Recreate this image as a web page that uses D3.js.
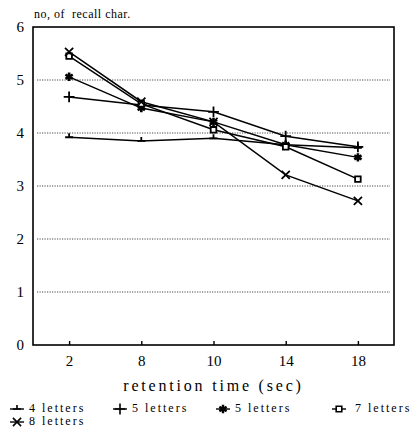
<!DOCTYPE html>
<html>
<head>
<meta charset="utf-8">
<script src="https://cdn.jsdelivr.net/npm/d3@7"></script>
<style>
  body { margin: 0; background: #fff; }
  svg { display: block; }
</style>
</head>
<body>
<svg id="chart"></svg>
<script>
const width = 416;
const height = 444;
const serif = '"Liberation Serif", "Times New Roman", Times, serif';

const times = ['2', '8', '10', '14', '18'];
const yTicks = [0, 1, 2, 3, 4, 5, 6];
const gridTicks = [1, 2, 3, 4, 5];

const letters4 = [3.92, 3.85, 3.90, 3.78, 3.72];
const letters5 = [4.68, 4.53, 4.40, 3.94, 3.74];
const letters5b = [5.06, 4.47, 4.21, 3.78, 3.54];
const letters7 = [5.45, 4.55, 4.06, 3.74, 3.13];
const letters8 = [5.53, 4.59, 4.21, 3.21, 2.72];

const seriesNames = ['4 letters', '5 letters', '5 letters', '7 letters', '8 letters'];

const series = [
    { name: seriesNames[0], values: letters4, mark: 'tick' },
    { name: seriesNames[1], values: letters5, mark: 'plus' },
    { name: seriesNames[2], values: letters5b, mark: 'star' },
    { name: seriesNames[3], values: letters7, mark: 'square' },
    { name: seriesNames[4], values: letters8, mark: 'times' }
];

const marks = {
    tick: 'M-4,0H4M0,0V-4',
    plus: d3.symbol(d3.symbolPlus, 40)(),
    star: d3.symbol(d3.symbolAsterisk, 50)(),
    square: d3.symbol(d3.symbolSquare2, 40)(),
    times: d3.symbol(d3.symbolTimes, 45)()
};

const plotLeft = 33, plotRight = 394, plotTop = 27, plotBottom = 345;

const x = d3.scalePoint().domain(times).range([plotLeft, plotRight]).padding(0.5);
const y = d3.scaleLinear().domain([0, 6]).range([plotBottom, plotTop]);

const svg = d3.select('#chart')
    .attr('width', width)
    .attr('height', height);

// dotted grid
svg.append('g')
    .selectAll('line')
    .data(gridTicks)
    .enter().append('line')
    .attr('x1', plotLeft + 4)
    .attr('x2', plotRight - 4)
    .attr('y1', d => y(d))
    .attr('y2', d => y(d))
    .attr('stroke', '#333')
    .attr('stroke-width', 0.9)
    .attr('stroke-dasharray', '1.2,1.3');

// frame
svg.append('rect')
    .attr('x', plotLeft)
    .attr('y', plotTop)
    .attr('width', plotRight - plotLeft)
    .attr('height', plotBottom - plotTop)
    .attr('fill', 'none')
    .attr('stroke', '#000')
    .attr('stroke-width', 1.6);

// x axis
const xAxis = svg.append('g')
    .attr('transform', `translate(0,${plotBottom})`)
    .call(d3.axisBottom(x).tickSize(-4).tickPadding(10));
xAxis.select('.domain').remove();
xAxis.selectAll('line').attr('stroke', '#000').attr('stroke-width', 1.4);
xAxis.selectAll('text')
    .style('font-family', serif)
    .style('font-size', '15px')
    .attr('fill', '#000');

// y axis
const yAxis = svg.append('g')
    .attr('transform', `translate(${plotLeft},0)`)
    .call(d3.axisLeft(y).tickValues(yTicks).tickFormat(d3.format('d')).tickSize(0).tickPadding(9));
yAxis.select('.domain').remove();
yAxis.selectAll('text')
    .style('font-family', serif)
    .style('font-size', '15px')
    .attr('fill', '#000');

svg.append('text')
    .attr('x', 34)
    .attr('y', 18)
    .style('font-family', serif)
    .style('font-size', '12px')
    .style('white-space', 'pre')
    .attr('letter-spacing', 0.5)
    .attr('fill', '#000')
    .text('no, of  recall char.');

svg.append('text')
    .attr('x', (plotLeft + plotRight) / 2)
    .attr('y', 391)
    .attr('text-anchor', 'middle')
    .style('font-family', serif)
    .style('font-size', '16px')
    .attr('letter-spacing', 2.8)
    .attr('fill', '#000')
    .text('retention time (sec)');

// lines
const line = d3.line()
    .x((d, i) => x(times[i]))
    .y(d => y(d));

const plot = svg.append('g');

plot.selectAll('.line')
    .data(series)
    .enter().append('path')
    .attr('class', 'line')
    .attr('d', d => line(d.values))
    .attr('fill', 'none')
    .attr('stroke', '#000')
    .attr('stroke-width', 1.5);

series.forEach(s => {
    plot.append('g')
        .selectAll('path')
        .data(s.values)
        .enter().append('path')
        .attr('transform', (d, i) => `translate(${x(times[i])},${y(d)})`)
        .attr('d', marks[s.mark])
        .attr('fill', s.mark === 'square' ? '#fff' : 'none')
        .attr('stroke', '#000')
        .attr('stroke-width', s.mark === 'star' ? 2.6 : 1.8);
});

// legend
const legendPos = [[10, 412], [113, 412], [216, 412], [332, 412], [10, 425]];

const legend = svg.append('g')
    .selectAll('g')
    .data(series)
    .enter().append('g')
    .attr('transform', (d, i) => `translate(${legendPos[i][0]},${legendPos[i][1]})`);

legend.append('line')
    .attr('x1', 0).attr('x2', 14)
    .attr('y1', -3).attr('y2', -3)
    .attr('stroke', '#000')
    .attr('stroke-width', 1.4);

legend.append('path')
    .attr('transform', 'translate(7,-3)')
    .attr('d', d => marks[d.mark])
    .attr('fill', d => d.mark === 'square' ? '#fff' : 'none')
    .attr('stroke', '#000')
    .attr('stroke-width', d => d.mark === 'star' ? 2.4 : 1.6);

legend.append('text')
    .attr('x', d => d.mark === 'square' ? 23 : 19)
    .attr('y', 0)
    .style('font-family', serif)
    .style('font-size', '12px')
    .attr('letter-spacing', 2)
    .attr('fill', '#000')
    .text(d => d.name);
</script>
</body>
</html>
